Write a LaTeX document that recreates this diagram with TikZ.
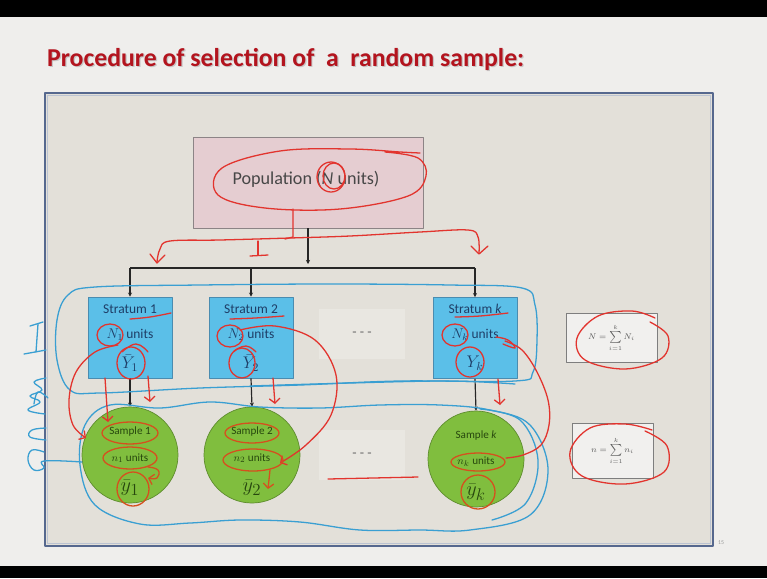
\documentclass[tikz,border=0pt]{standalone}
\usepackage{fontspec}
\setmainfont{Carlito}
\usetikzlibrary{arrows.meta,calc}

\definecolor{slidebg}{HTML}{EFEEEC}
\definecolor{panelfill}{HTML}{E3E0D9}
\definecolor{panelblue}{HTML}{56688E}
\definecolor{titlered}{HTML}{B3141E}
\definecolor{popfill}{HTML}{E5CDD1}
\definecolor{popedge}{HTML}{8C8486}
\definecolor{stratfill}{HTML}{5BBFE8}
\definecolor{stratedge}{HTML}{4A8CB0}
\definecolor{strattext}{HTML}{1E3D66}
\definecolor{sampfill}{HTML}{80BE3E}
\definecolor{sampedge}{HTML}{5E8C2E}
\definecolor{samptext}{HTML}{27470E}
\definecolor{formfill}{HTML}{F1F0EE}
\definecolor{formedge}{HTML}{7E7E7E}
\definecolor{penred}{HTML}{E2342E}
\definecolor{penorange}{HTML}{D5501E}
\definecolor{penblue}{HTML}{3A9FD2}

\tikzset{
  popbox/.style={draw=popedge, fill=popfill, line width=0.8pt,
    minimum width=6.9cm, minimum height=2.73cm},
  stratbox/.style={draw=stratedge, fill=stratfill, line width=0.6pt,
    minimum width=2.52cm, minimum height=2.43cm},
  sampdisc/.style={circle, draw=sampedge, fill=sampfill, line width=0.6pt,
    minimum size=2.88cm},
  formbox/.style={draw=formedge, fill=formfill, line width=0.8pt},
  dotsbox/.style={fill=white!22!panelfill, minimum width=2.6cm, minimum height=1.5cm},
  strattxt/.style={text=strattext, font=\fontsize{11.5}{13}\selectfont, inner sep=0pt},
  samptxt/.style={text=samptext, font=\fontsize{9.5}{11}\selectfont, inner sep=0pt},
  titletxt/.style={anchor=west, font=\bfseries\fontsize{22}{25}\selectfont},
  link/.style={draw=black!85, line width=1pt, -{Stealth[length=3.5pt,width=3.5pt]}},
  bus/.style={draw=black!85, line width=1pt},
  pen/.style={draw=penred, line width=1.1pt, line cap=round},
  peno/.style={draw=penorange, line width=1.1pt, line cap=round},
  penb/.style={draw=penblue, line width=1.1pt, line cap=round},
  barb/.style={-{Straight Barb[length=4pt,width=9pt]}}
}

\begin{document}
\begin{tikzpicture}[x=0.03cm,y=-0.03cm,line join=round]
\useasboundingbox (0,0) rectangle (767,578);
% slide background and black bars
\fill[slidebg] (0,0) rectangle (767,578);
\fill[black] (0,0) rectangle (767,17);
\fill[black] (0,566) rectangle (767,578);

% title with its soft shadow
\node[titletxt, text=black!22] (titleshadow) at (44.2,60.2)
  {Procedure of selection of\ \ a\ \ random sample:};
\node[titletxt, text=titlered] (title) at (43,59)
  {Procedure of selection of\ \ a\ \ random sample:};

% panel
\draw[panelblue, line width=1.4pt, fill=panelfill] (45,93) rectangle (713,546);
\draw[white!60!panelblue, line width=0.5pt] (47.5,95.5) rectangle (710.5,543.5);
\node[text=black!40, font=\fontsize{5}{6}\selectfont] (pageno) at (721,543) {15};

% population
\node[popbox] (pop) at (308,182.5) {};
\node[text=black!72, font=\fontsize{15.5}{18}\selectfont] (poptxt) at (306,179)
  {Population ({\itshape N} units)};

% strata
\node[stratbox] (s1) at (130,337.5) {};
\node[stratbox] (s2) at (251,337.5) {};
\node[stratbox] (sk) at (475,338) {};
\foreach \n/\x/\lab/\NN/\YY in {s1/130/1/{N_1}/{\bar{Y}_1}, s2/251/2/{N_2}/{\bar{Y}_2}, sk/475/{\itshape k}/{N_k}/{Y_k}}{
  \node[strattxt] (\n a) at (\x,309) {Stratum \lab};
  \node[strattxt] (\n b) at (\x,335) {$\NN$ units};
  \node[strattxt, font=\fontsize{14}{16}\selectfont] (\n c) at (\x,363) {$\YY$};
}

% samples
\node[sampdisc] (c1) at (130,455) {};
\node[sampdisc] (c2) at (252,455) {};
\node[sampdisc] (ck) at (476,459) {};
\foreach \n/\x/\y/\lab/\nn/\yy in {c1/130/455/1/{n_1}/{\bar{y}_1}, c2/252/455/2/{n_2}/{\bar{y}_2}, ck/476/459/{\itshape k}/{n_k}/{\bar{y}_k}}{
  \node[samptxt] (\n a) at (\x,\y-23) {Sample \lab};
  \node[samptxt] (\n b) at (\x,\y+3) {$\nn$ units};
  \node[samptxt, font=\fontsize{19}{21}\selectfont] (\n c) at (\x,\y+33) {$\yy$};
}

% ellipses between columns
\node[dotsbox] (d1) at (362,334) {};
\node[text=black!60, font=\fontsize{12}{14}\selectfont] (d1t) at (362,334) {- - -};
\node[dotsbox] (d2) at (362,455) {};
\node[text=black!60, font=\fontsize{12}{14}\selectfont] (d2t) at (362,455) {- - -};

% totals
\node[formbox, minimum width=2.73cm, minimum height=1.47cm] (fN) at (611.5,337.5)
  {\color{black!65}\fontsize{7.5}{8}\selectfont $N=\sum\limits_{i=1}^{k}N_i$};
\node[formbox, minimum width=2.43cm, minimum height=1.65cm] (fn) at (612.5,450.5)
  {\color{black!65}\fontsize{7.5}{8}\selectfont $n=\sum\limits_{i=1}^{k}n_i$};

% connectors
\coordinate (hub) at (pop.south |- 0,264);
\coordinate (b1) at (s1.north |- 0,268);
\coordinate (b2) at (s2.north |- 0,268);
\coordinate (bk) at (sk.north |- 0,268);
\draw[link] (pop.south) -- (hub);
\draw[bus] (b1) -- (bk);
\draw[link] (b1) -- (s1.north);
\draw[link] (b2) -- (s2.north);
\draw[link] (bk) -- (sk.north);
\draw[link] (s1.south) -- (c1.north);
\draw[link] (s2.south) -- (c2.north);
\draw[link] (sk.south) -- (ck.north);

% ---- pen marks: blue loops around the two rows
\draw[penb] plot[smooth cycle, tension=0.6] coordinates {(95,287) (200,285) (330,284) (450,285) (522,288) (535,305) (537,340) (533,372) (515,381) (400,381) (300,385) (200,388) (100,393) (70,390) (57,360) (57,320) (68,295)};
\draw[penb] plot[smooth, tension=0.6] coordinates {(250,386) (350,383) (450,381) (515,384)};
\draw[penb] plot[smooth cycle, tension=0.6] coordinates {(110,405) (160,408) (210,402) (260,407) (320,408) (380,405) (440,405) (490,410) (530,425) (548,470) (530,515) (470,530) (420,530) (360,530) (300,522) (240,520) (190,523) (140,524) (95,505) (80,465) (85,425)};
\draw[penb] plot[smooth, tension=0.6] coordinates {(480,409) (520,420) (538,460) (526,503) (492,520)};
% blue margin notes
\draw[penb] (24,354) -- (46,350);
\draw[penb] (36,352) -- (38,324);
\draw[penb] (30,326) -- (43,322);
\draw[penb] plot[smooth, tension=0.7] coordinates {(46,378) (34,382) (42,390) (30,396) (40,402) (28,410) (45,414)};
\draw[penb] plot[smooth, tension=0.7] coordinates {(48,398) (38,392) (34,404)};
\draw[penb] plot[smooth, tension=0.7] coordinates {(46,428) (32,430) (30,437) (46,440)};
\draw[penb] plot[smooth, tension=0.7] coordinates {(44,452) (32,450) (28,460) (34,470) (44,468) (44,461) (82,462)};

% ---- pen marks: red, population
\draw[pen] plot[smooth, tension=0.6] coordinates {(385,152) (418,158) (426,176) (408,196) (340,209) (265,208) (218,195) (222,168) (280,151) (350,149) (400,152) (420,153)};
\draw[pen] (331,177) circle [x radius=14, y radius=15];
\draw[pen] (334,176) circle [x radius=11, y radius=13];
\draw[pen] (293,209) -- (293,237) -- (285,239);
\draw[pen] plot[smooth, tension=0.6] coordinates {(157,262) (160,249) (170,241) (220,240) (290,238) (350,236) (420,232) (468,230) (478,237) (479,253)};
\draw[pen] (150,254) -- (157,263) -- (165,255);
\draw[pen] (471,246) -- (479,254) -- (488,246);
\draw[pen] (258,241) -- (258,255);
\draw[pen] (250,256) -- (268,255);

% red, strata
\draw[pen] plot[smooth, tension=0.7] coordinates {(130,319) (150,317) (171,313)};
\draw[pen] (110,335) circle [x radius=13, y radius=11];
\draw[pen, barb] plot[smooth, tension=0.6] coordinates {(118,345) (95,352) (76,372) (69,400) (73,425) (86,438)};
\draw[pen] (131,363) circle [x radius=14, y radius=16];
\draw[pen] plot[smooth, tension=0.8] coordinates {(122,352) (136,344) (148,352)};
\draw[pen, barb] (105,378) -- (108,422);
\draw[pen, barb] (148,376) -- (150,402);

\draw[pen] plot[smooth, tension=0.7] coordinates {(230,319) (255,318) (284,316)};
\draw[pen] (230,336) circle [x radius=13, y radius=11];
\draw[pen, barb] plot[smooth, tension=0.6] coordinates {(240,330) (275,326) (315,340) (336,375) (331,415) (306,445) (280,463)};
\draw[pen] (242,363) circle [x radius=13, y radius=15];
\draw[pen] plot[smooth, tension=0.8] coordinates {(234,351) (246,346) (256,352)};
\draw[pen, barb] (273,378) -- (275,404);

\draw[pen] plot[smooth, tension=0.7] coordinates {(455,317) (480,316) (508,313)};
\draw[pen] (455,335) circle [x radius=13, y radius=11];
\draw[pen] (470,362) circle [x radius=14, y radius=15];
\draw[pen] plot[smooth, tension=0.7] coordinates {(496,337) (508,340) (515,348) (503,344)};
\draw[pen] plot[smooth, tension=0.6] coordinates {(505,341) (522,350) (537,372) (548,400) (549,425) (541,445) (523,455) (506,458)};
\draw[pen, barb] (498,379) -- (500,405);

% red, samples
\draw[peno] (130,433) circle [x radius=28, y radius=11];
\draw[peno] (130,458) circle [x radius=27, y radius=11];
\draw[peno] (133,489) circle [x radius=16, y radius=17];
\draw[peno, barb] plot[smooth, tension=0.8] coordinates {(148,467) (158,470) (157,478) (148,478)};
\draw[peno] (252,433) circle [x radius=27, y radius=10];
\draw[peno] (253,460) circle [x radius=30, y radius=11];
\draw[peno, barb] (270,470) -- (268,489);
\draw[peno] (478,462) circle [x radius=27, y radius=9];
\draw[peno] (478,492) circle [x radius=17, y radius=17];
\draw[pen] (328,479) -- (418,477);

% red, totals
\draw[pen] plot[smooth, tension=0.6] coordinates {(650,322) (668,336) (662,358) (625,369) (585,360) (577,338) (598,316) (632,311) (655,318)};
\draw[pen] plot[smooth, tension=0.6] coordinates {(645,431) (667,446) (664,472) (625,484) (582,476) (570,452) (590,428) (625,424) (652,430)};
\end{tikzpicture}
\end{document}
